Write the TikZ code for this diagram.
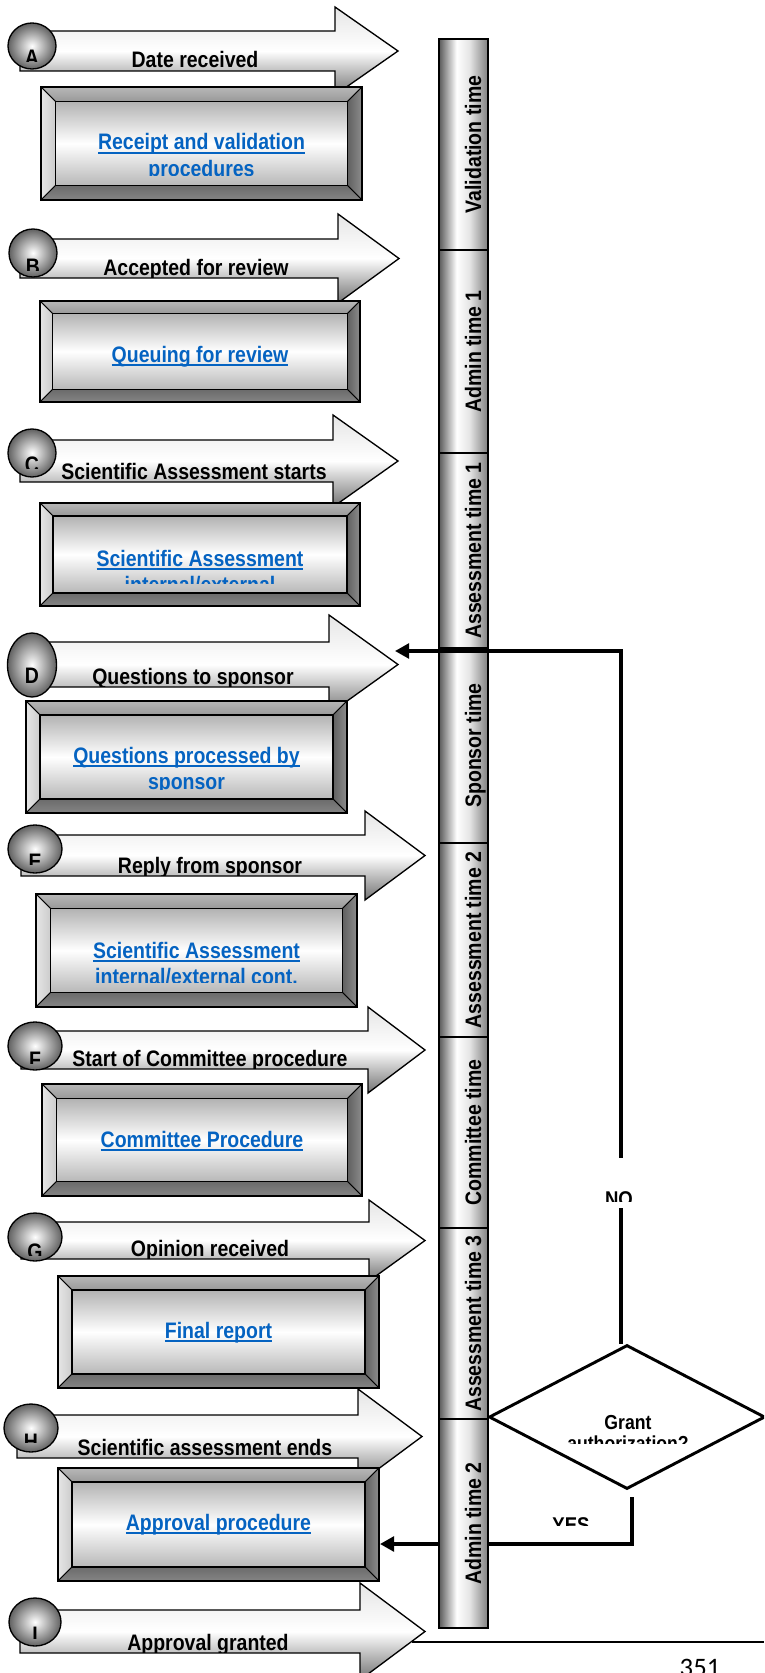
\documentclass[tikz,border=0pt]{standalone}
\usepackage{fontspec}
\setmainfont{Liberation Sans}[FakeStretch=0.87]
\newfontfamily\pagenumfont{Carlito}
\usepackage{xcolor}
\definecolor{linkblue}{HTML}{0563C1}
\usepackage{tikz}
\usetikzlibrary{arrows.meta, shapes.geometric, calc}

\pgfdeclarehorizontalshading{barshade}{100bp}{%
  color(0bp)=(black!65); color(25bp)=(black!65); color(43bp)=(white);
  color(56bp)=(black!10); color(75bp)=(black!50); color(100bp)=(black!50)}

\tikzset{
  arrowbody/.style={draw=black, line width=1pt,
    top color=black!10, bottom color=black!55, middle color=white},
  markball/.style={draw=black, line width=1pt, inner color=white, outer color=black!62},
  lbl/.style={font=\bfseries\fontsize{16.8}{19}\selectfont, inner sep=0pt},
  linktext/.style={font=\bfseries\fontsize{16.8}{19}\selectfont, text=linkblue, inner sep=0pt},
  bevtop/.style={draw=black, line width=.6pt, top color=black!28, bottom color=black!40},
  bevleft/.style={draw=black, line width=.6pt, left color=black!10, right color=black!20},
  bevright/.style={draw=black, line width=.6pt, left color=black!62, right color=black!45},
  bevbot/.style={draw=black, line width=.6pt, top color=black!58, bottom color=black!48},
  bevface/.style={draw=black, line width=1pt, top color=black!30, bottom color=black!28, middle color=white},
  segbar/.style={draw=black, line width=.8pt, shading=barshade},
  conn/.style={->, line width=2.5pt},
  decision/.style={diamond, draw=black, line width=2.2pt, fill=white, inner sep=0pt}
}

% underlined hyperlink look
\newcommand{\ulink}[1]{\setbox0=\hbox{#1}\rlap{\rule[-2.7pt]{\wd0}{1pt}}\box0}

% name, x left, x head, x tip, y top, y bottom, head top, label x, label
\newcommand{\blockarrow}[9]{%
  \pgfmathsetmacro\arrmid{(#5+#6)/2}
  \pgfmathsetmacro\arrlow{#5+#6-#7}
  \draw[arrowbody] (#2,#5) -- (#3,#5) -- (#3,#7) -- (#4,\arrmid) -- (#3,\arrlow)
    -- (#3,#6) -- (#2,#6) -- cycle;
  \begin{scope}
    \clip (#2,#5) rectangle (#4,#6-1);
    \node[lbl, anchor=base] (#1) at (#8,#6-3) {#9};
  \end{scope}}

% name, cx, cy, rx, ry, letter, baseline offset, clip offset
\newcommand{\stagemark}[8]{%
  \draw[markball] (#2,#3) ellipse [x radius=#4, y radius=#5];
  \begin{scope}
    \clip (#2-#4-2,#3-#5-2) rectangle (#2+#4+2,#3+#8);
    \node[lbl, anchor=base] (#1) at (#2,#3+#7) {#6};
  \end{scope}}

% name, x1, y1, x2, y2, bevel, first baseline, line 1, line 2
\newcommand{\bevelbox}[9]{%
  \draw[bevtop] (#2,#3) -- (#4,#3) -- (#4-#6,#3+#6) -- (#2+#6,#3+#6) -- cycle;
  \draw[bevleft] (#2,#3) -- (#2+#6,#3+#6) -- (#2+#6,#5-#6) -- (#2,#5) -- cycle;
  \draw[bevright] (#4,#3) -- (#4,#5) -- (#4-#6,#5-#6) -- (#4-#6,#3+#6) -- cycle;
  \draw[bevbot] (#2,#5) -- (#2+#6,#5-#6) -- (#4-#6,#5-#6) -- (#4,#5) -- cycle;
  \draw[bevface] (#2+#6,#3+#6) rectangle (#4-#6,#5-#6);
  \draw[line width=1.2pt] (#2,#3) rectangle (#4,#5);
  \begin{scope}
    \clip (#2+#6,#3+#6) rectangle (#4-#6,#5-#6-10);
    \node[linktext, anchor=base] (#1) at ({(#2+#4)/2},#7) {\ulink{#8}};
    \if\relax\detokenize{#9}\relax\else
      \node[linktext, anchor=base] (#1-2) at ({(#2+#4)/2},#7+26.5) {\ulink{#9}};
    \fi
  \end{scope}}

\begin{document}
\begin{tikzpicture}[x=0.75pt, y=-0.75pt, >={Triangle[length=10.5pt,width=11pt]}]

  \useasboundingbox (0,0) rectangle (764,1673);
  \clip (0,0) rectangle (764,1673);

  % footer rule and page number
  \draw[line width=1pt] (412,1642) -- (764,1642);
  \node[font=\pagenumfont\fontsize{20}{24}\selectfont, anchor=base, inner sep=0pt]
    (pagenum) at (700,1676) {351};

  % stages
  \blockarrow{arrA}{20}{335}{398}{31}{71}{7}{195}{Date received}
  \stagemark{markA}{32}{46}{24}{23}{A}{20}{16}
  \bevelbox{boxA}{41}{87}{362}{200}{14.5}{150}{Receipt and validation}{procedures}

  \blockarrow{arrB}{20}{338}{399}{239}{278}{214}{196}{Accepted for review}
  \stagemark{markB}{33}{253}{24}{24}{B}{21}{17}
  \bevelbox{boxB}{40}{301}{360}{402}{12.5}{362}{Queuing for review}{}

  \blockarrow{arrC}{20}{333}{398}{440}{482}{415}{194}{Scientific Assessment starts}
  \stagemark{markC}{32}{453}{24}{24}{C}{19}{15}
  \bevelbox{boxC}{40}{503}{360}{606}{13}{566}{Scientific Assessment}{internal/external}

  \blockarrow{arrD}{20}{329}{398}{642}{687}{615}{193}{Questions to sponsor}
  \stagemark{markD}{32}{665}{24.5}{32}{D}{18}{40}
  \bevelbox{boxD}{26}{701}{347}{813}{14}{763}{Questions processed by}{sponsor}

  \blockarrow{arrE}{21}{365}{425}{835}{876}{811}{210}{Reply from sponsor}
  \stagemark{markE}{35}{849}{27}{24}{E}{20}{15}
  \bevelbox{boxE}{36}{894}{357}{1007}{14.5}{958}{Scientific Assessment}{internal/external cont.}

  \blockarrow{arrF}{21}{368}{425}{1031}{1069}{1007}{210}{Start of Committee procedure}
  \stagemark{markF}{35}{1046}{27}{24}{F}{21}{17}
  \bevelbox{boxF}{42}{1084}{362}{1196}{14.5}{1147}{Committee Procedure}{}

  \blockarrow{arrG}{21}{369}{425}{1222}{1259}{1200}{210}{Opinion received}
  \stagemark{markG}{35}{1237}{27}{24}{G}{22}{18}
  \bevelbox{boxG}{58}{1276}{379}{1388}{14}{1338}{Final report}{}

  \blockarrow{arrH}{17}{358}{422}{1415}{1458}{1389}{205}{Scientific assessment ends}
  \stagemark{markH}{31}{1428}{27}{24}{H}{21}{14}
  \bevelbox{boxH}{58}{1468}{379}{1581}{14}{1530}{Approval procedure}{}

  \blockarrow{arrI}{20}{360}{425}{1610}{1653}{1583}{208}{Approval granted}
  \stagemark{markI}{35}{1622}{26}{24}{I}{20}{16}

  % decision
  \node[decision, minimum width=207pt, minimum height=108pt] (grant) at (627,1417) {};
  \begin{scope}
    \clip (520,1400) rectangle (740,1443);
    \node[font=\bfseries\fontsize{15.2}{17}\selectfont, anchor=base, inner sep=0pt]
      (grant-t1) at (628,1429) {Grant};
    \node[font=\bfseries\fontsize{15.2}{17}\selectfont, anchor=base, inner sep=0pt]
      (grant-t2) at (628,1450) {authorization?};
  \end{scope}

  \coordinate (yesstart) at (632,1497);
  \coordinate (yesend) at (380,1544);
  \draw[conn] (yesstart) |- (yesend);
  \begin{scope}
    \clip (540,1500) rectangle (600,1525);
    \node[font=\bfseries\fontsize{16}{18}\selectfont, anchor=base, inner sep=0pt]
      (yeslbl) at (571,1532) {YES};
  \end{scope}

  % time bar
  \foreach \ya/\yb/\seglbl [count=\i] in {39/250/Validation time, 250/453/Admin time 1,
      453/648/Assessment time 1, 648/843/Sponsor time, 843/1037/Assessment time 2,
      1037/1228/Committee time, 1228/1419/Assessment time 3, 1419/1628/Admin time 2} {
    \draw[segbar] (439,\ya) rectangle (488,\yb);
    \node[lbl, anchor=base, rotate=90] (seg\i) at (481,{(\ya+\yb)/2}) {\seglbl};
  }

  \coordinate (noturn) at (621,651);
  \coordinate (noend) at (395,651);
  \draw[conn] (grant.north -| noturn) -- (noturn) -- (noend);
  \node[fill=white, inner sep=0pt, minimum width=22pt, minimum height=37.5pt] (nogap) at (621,1183) {};
  \begin{scope}
    \clip (600,1158) rectangle (642,1201);
    \node[font=\bfseries\fontsize{16}{18}\selectfont, anchor=base, inner sep=0pt]
      (nolbl) at (619,1206) {NO};
  \end{scope}

\end{tikzpicture}
\end{document}
